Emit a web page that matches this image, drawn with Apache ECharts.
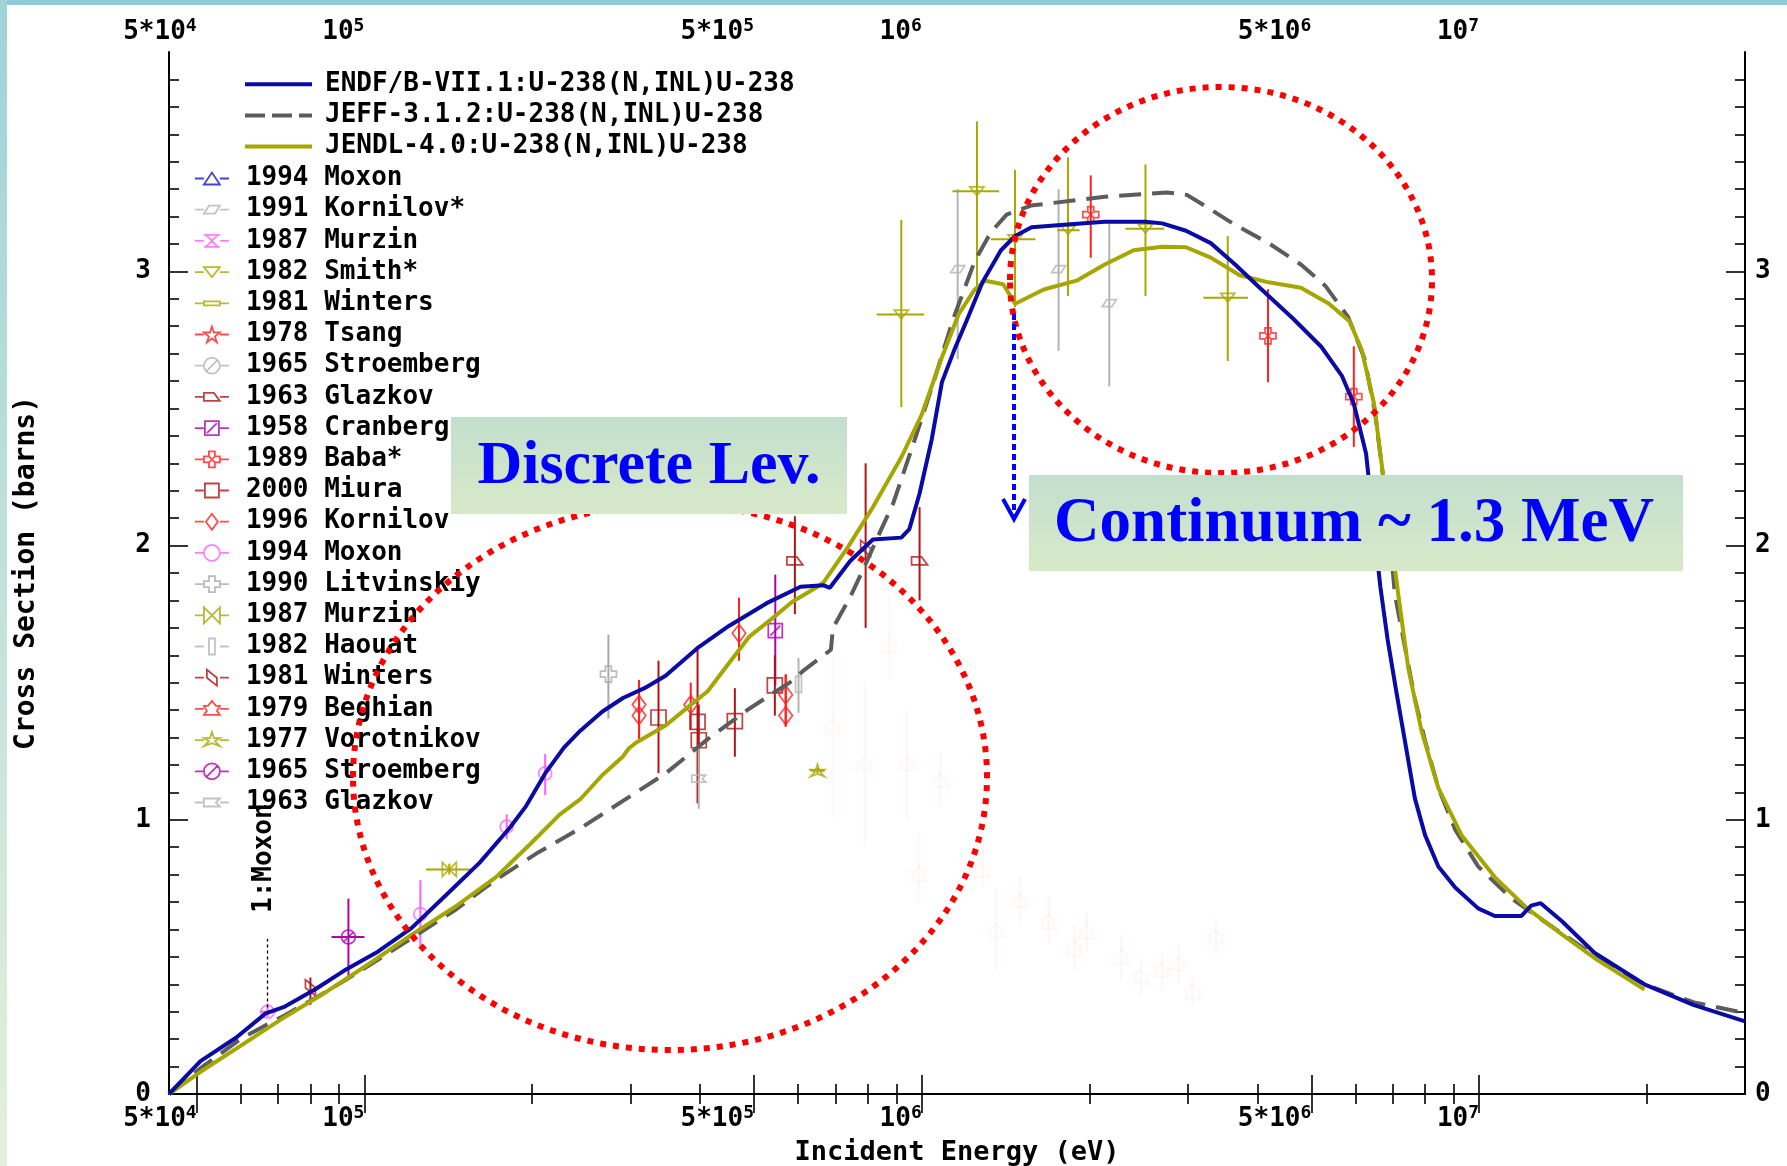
<!DOCTYPE html>
<html><head><meta charset="utf-8">
<script src="https://cdn.jsdelivr.net/npm/echarts@6.0.0/dist/echarts.min.js"></script>
<style>html,body{margin:0;padding:0;background:#fff}#c{width:1787px;height:1166px}</style>
</head><body><div id="c"></div>
<script>
const FONT = "'DejaVu Sans Mono', 'Liberation Mono', monospace";
const X_MIN = 44600, X_MAX = 3.0e7, Y_MIN = 0, Y_MAX = 3.8;
const xMajorTicks = [5e4, 1e5, 5e5, 1e6, 5e6, 1e7];
const xTickLabels = ['5*10^4', '10^5', '5*10^5', '10^6', '5*10^6', '10^7'];
const xMinorTicks = [6e4, 7e4, 8e4, 9e4, 2e5, 3e5, 4e5, 6e5, 7e5, 8e5, 9e5, 2e6, 3e6, 4e6, 6e6, 7e6, 8e6, 9e6, 2e7];
const yMajorTicks = [0, 1, 2, 3];
const yMinorTicks = [0.1,0.2,0.3,0.4,0.5,0.6,0.7,0.8,0.9,1.1,1.2,1.3,1.4,1.5,1.6,1.7,1.8,1.9,2.1,2.2,2.3,2.4,2.5,2.6,2.7,2.8,2.9,3.1,3.2,3.3,3.4,3.5,3.6,3.7];

// Evaluated data: [E (eV), sigma (b)]
const endfData = [[44600,0],[50800,0.12],[58900,0.206],[66500,0.294],[72000,0.319],[81500,0.381],[92000,0.45],[105700,0.519],[121600,0.606],[140000,0.725],[161000,0.844],[182000,0.969],[195000,1.05],[211000,1.169],[228000,1.263],[244000,1.325],[267000,1.394],[291000,1.444],[318000,1.48],[347000,1.525],[398000,1.63],[450000,1.706],[527000,1.79],[606000,1.85],[667000,1.855],[684000,1.846],[744000,1.944],[817000,2.022],[919000,2.029],[950000,2.06],[991000,2.19],[1042000,2.387],[1087000,2.596],[1143000,2.712],[1202000,2.817],[1285000,2.96],[1387000,3.077],[1471000,3.129],[1574000,3.161],[1800000,3.17],[2130000,3.181],[2520000,3.181],[2700000,3.175],[2980000,3.148],[3300000,3.103],[3650000,3.025],[4040000,2.94],[4630000,2.829],[5210000,2.725],[5670000,2.62],[5960000,2.517],[6270000,2.335],[6480000,2.06],[6650000,1.85],[6850000,1.66],[7100000,1.47],[7360000,1.288],[7670000,1.078],[8000000,0.944],[8450000,0.83],[9060000,0.753],[9960000,0.677],[10670000,0.649],[11900000,0.649],[12400000,0.687],[12900000,0.696],[14100000,0.629],[16100000,0.515],[19800000,0.40],[24300000,0.324],[30000000,0.265]];
const jeffData = [[44600,0],[50800,0.094],[60500,0.206],[72000,0.2875],[85800,0.375],[102000,0.469],[121600,0.569],[145000,0.669],[172000,0.781],[205000,0.881],[244000,0.969],[291000,1.069],[347000,1.169],[413000,1.294],[491000,1.406],[585000,1.506],[615000,1.546],[687000,1.62],[693000,1.70],[743000,1.81],[784000,1.91],[830000,2.023],[888000,2.152],[967000,2.374],[1050000,2.596],[1140000,2.829],[1245000,3.038],[1330000,3.142],[1420000,3.207],[1570000,3.24],[2130000,3.272],[2750000,3.288],[2990000,3.279],[3250000,3.234],[3660000,3.168],[4190000,3.103],[4790000,3.025],[5300000,2.947],[5820000,2.834],[6230000,2.681],[6500000,2.49],[6680000,2.30],[6870000,2.10],[7060000,1.823],[7360000,1.631],[7670000,1.441],[8000000,1.288],[8450000,1.116],[9060000,0.964],[9960000,0.83],[11400000,0.715],[13100000,0.629],[16100000,0.505],[19800000,0.40],[24300000,0.334],[30000000,0.295]];
const jendlData = [[44600,0],[50800,0.081],[60500,0.181],[72000,0.281],[85800,0.375],[102000,0.475],[121600,0.581],[145000,0.681],[172000,0.79],[198000,0.91],[224000,1.019],[244000,1.075],[267000,1.1625],[291000,1.231],[298000,1.26],[307000,1.281],[347000,1.344],[385000,1.419],[413000,1.469],[450000,1.569],[491000,1.669],[536000,1.73],[585000,1.794],[650000,1.85],[667000,1.867],[738000,1.996],[817000,2.14],[919000,2.322],[1000000,2.478],[1087000,2.687],[1164000,2.843],[1245000,2.934],[1300000,2.966],[1400000,2.953],[1471000,2.882],[1655000,2.934],[1895000,2.966],[2130000,3.025],[2400000,3.077],[2700000,3.09],[2980000,3.088],[3300000,3.05],[3720000,2.986],[4190000,2.96],[4790000,2.94],[5380000,2.882],[5860000,2.817],[6160000,2.712],[6480000,2.517],[6870000,2.108],[7160000,1.823],[7460000,1.555],[7880000,1.326],[8450000,1.116],[9300000,0.944],[10670000,0.791],[12200000,0.677],[14100000,0.581],[16100000,0.496],[18500000,0.419],[19800000,0.381]];

// Experimental data: [E, sigma, sigmaLow, sigmaHigh, (Elow, Ehigh)]
const exMoxon1994a = [];
const exKornilovStar1991 = [[1160000,3.008,2.68,3.30],[1760000,3.008,2.71,3.30],[2170000,2.884,2.58,3.18]];
const exMurzin1987a = [];
const exSmith1982 = [[919000,2.843,2.505,3.188,830000,1010000],[1256000,3.292,2.92,3.547,1135000,1377000],[1470000,3.117,2.87,3.37,1330000,1600000],[1830000,3.15,2.91,3.416,1750000,1920000],[2520000,3.155,2.91,3.39,2320000,2720000],[3540000,2.904,2.673,3.129,3200000,3850000]];
const exWinters1981a = [];
const exTsang1978 = [];
const exStroemberg1965a = [];
const exGlazkov1963a = [[592000,1.944,1.75,2.107],[991000,1.944,1.80,2.14]];
const exCranberg1958 = [[546000,1.69,1.49,1.894]];
const exBaba1989 = [[2010000,3.207,3.05,3.35],[4180000,2.765,2.596,2.935],[5960000,2.543,2.36,2.727]];
const exMiura2000 = [[337000,1.373,1.17,1.58],[396000,1.357,1.06,1.62],[398000,1.29,1.15,1.42],[462000,1.36,1.23,1.48],[545000,1.49,1.38,1.60]];
const exKornilov1996 = [[311000,1.42,1.29,1.51],[311000,1.38,1.29,1.51],[385000,1.42,1.33,1.50],[470000,1.68,1.58,1.81],[570000,1.456,1.34,1.53],[570000,1.38,1.34,1.53]];
const exMoxon1994b = [[67000,0.30,0.28,0.33,64900,69500],[126000,0.656,0.54,0.78],[180000,0.975,0.93,1.02],[211000,1.169,1.09,1.24]];
const exLitvinskiy1990 = [[274000,1.531,1.369,1.675]];
const exMurzin1987b = [[142000,0.819,0.80,0.84,129000,155000]];
const exHaouat1982 = [[601000,1.494,1.39,1.59]];
const exWinters1981b = [[80000,0.3875,0.325,0.425],[793000,1.99,1.70,2.30]];
const exBeghian1979 = [[875000,1.637,1.509,1.813],[692000,1.339,1.0,1.6],[789000,1.206,0.9,1.5],[942000,1.206,1.0,1.4],[1080000,1.145,1.05,1.25],[987000,0.805,0.7,0.95],[1285000,0.817,0.75,0.9],[1360000,0.598,0.45,0.75],[1500000,0.707,0.62,0.8],[1690000,0.628,0.55,0.72],[1880000,0.531,0.45,0.62],[1980000,0.592,0.52,0.66],[2280000,0.50,0.42,0.58],[2470000,0.428,0.36,0.5],[2700000,0.452,0.38,0.52],[2890000,0.476,0.40,0.55],[3060000,0.373,0.32,0.43],[3370000,0.573,0.5,0.64]];
const exVorotnikov1977 = [[650000,1.18,1.17,1.19,630000,670000]];
const exStroemberg1965b = [[93600,0.5725,0.431,0.7125,87300,100000]];
const exGlazkov1963b = [[398000,1.15,1.04,1.27]];

// symbol outlines (16x16 design box)
const SH = {
  triUp: 'M8 2L16 14L0 14Z',
  para: 'M0 12L5 4L16 4L11 12Z',
  hourglass: 'M2 2L14 2L2 14L14 14Z M0 2L16 2 M0 14L16 14',
  triDown: 'M0 3L16 3L8 13Z',
  flatRect: 'M0 6L16 6L16 10L0 10Z',
  star: 'M8 0L10 6L16 6L11 10L13 16L8 12L3 16L5 10L0 6L6 6Z',
  circSlash: 'M16 8A8 8 0 1 1 0 8A8 8 0 1 1 16 8Z M2.5 13.5L13.5 2.5',
  flag: 'M0 4L10 4L16 12L0 12Z',
  sqSlash: 'M1 1L15 1L15 15L1 15Z M3 13L13 3',
  baba: 'M5 0L11 0L11 5L16 5L16 11L11 11L11 16L5 16L5 11L0 11L0 5L5 5Z M5 5L11 11M11 5L5 11',
  square: 'M1 1L15 1L15 15L1 15Z',
  diamond: 'M8 0L14 8L8 16L2 8Z',
  circle: 'M16 8A8 8 0 1 1 0 8A8 8 0 1 1 16 8Z',
  plus: 'M5 0L11 0L11 5L16 5L16 11L11 11L11 16L5 16L5 11L0 11L0 5L5 5Z',
  bowtie: 'M0 0L16 16L16 0L0 16Z',
  thinRect: 'M5 0L11 0L11 16L5 16Z',
  winters: 'M3 0L13 8L13 16L3 8Z',
  house: 'M8 0L12 5L16 5L13 10L16 14L0 14L3 10L0 5L4 5Z',
  star2: 'M8 0L10 6L16 6L11 9L16 14L8 11L0 14L5 9L0 6L6 6Z',
  flag2: 'M0 4L16 4L12 8L16 12L0 12Z'
};

const experiments = [
  {name:'1994 Moxon', color:'#1414c8', shape:SH.triUp, size:14, data:exMoxon1994a},
  {name:'1991 Kornilov*', color:'#b4b4b4', shape:SH.para, size:14, data:exKornilovStar1991},
  {name:'1987 Murzin', color:'#ff60ff', shape:SH.hourglass, size:14, data:exMurzin1987a},
  {name:'1982 Smith*', color:'#a8a800', shape:SH.triDown, size:14, data:exSmith1982},
  {name:'1981 Winters', color:'#a8a800', shape:SH.flatRect, size:14, data:exWinters1981a},
  {name:'1978 Tsang', color:'#ff2020', shape:SH.star, size:14, data:exTsang1978},
  {name:'1965 Stroemberg', color:'#b4b4b4', shape:SH.circSlash, size:14, data:exStroemberg1965a},
  {name:'1963 Glazkov', color:'#b01414', shape:SH.flag, size:16, data:exGlazkov1963a},
  {name:'1958 Cranberg', color:'#b000b0', shape:SH.sqSlash, size:14, data:exCranberg1958},
  {name:'1989 Baba*', color:'#ff2020', shape:SH.baba, size:16, data:exBaba1989},
  {name:'2000 Miura', color:'#b01414', shape:SH.square, size:15, data:exMiura2000},
  {name:'1996 Kornilov', color:'#ff2020', shape:SH.diamond, size:18, data:exKornilov1996},
  {name:'1994 Moxon ', color:'#ff60ff', shape:SH.circle, size:13, data:exMoxon1994b},
  {name:'1990 Litvinskiy', color:'#aaaaaa', shape:SH.plus, size:16, data:exLitvinskiy1990},
  {name:'1987 Murzin ', color:'#a8a800', shape:SH.bowtie, size:14, data:exMurzin1987b},
  {name:'1982 Haouat', color:'#b4b4b4', shape:SH.thinRect, size:16, data:exHaouat1982},
  {name:'1981 Winters ', color:'#b01414', shape:SH.winters, size:16, data:exWinters1981b},
  {name:'1979 Beghian', color:'#ff2020', faint:'rgba(255,110,110,0.07)', shape:SH.house, size:16, data:exBeghian1979},
  {name:'1977 Vorotnikov', color:'#a8a800', shape:SH.star2, size:14, data:exVorotnikov1977},
  {name:'1965 Stroemberg ', color:'#b000b0', shape:SH.circSlash, size:14, data:exStroemberg1965b},
  {name:'1963 Glazkov ', color:'#b4b4b4', shape:SH.flag2, size:14, data:exGlazkov1963b}
];

function shiftPath(d, dx, dy) {
  return d.replace(/([MLA])([^MLAZ]*)/g, function (m, c, args) {
    const n = args.trim().split(/[\s,]+/).map(Number);
    if (c === 'A') { n[5] += dx; n[6] += dy; }
    else { for (let i = 0; i + 1 < n.length; i += 2) { n[i] += dx; n[i + 1] += dy; } }
    return c + n.join(' ');
  });
}
function legendIcon(shape) {
  return 'path://M0 0M34 20M0 10L9 10M25 10L34 10' + shiftPath(shape, 9, 2);
}

function fmtX(v) {
  for (let i = 0; i < xMajorTicks.length; i++) {
    if (Math.abs(v - xMajorTicks[i]) / xMajorTicks[i] < 1e-3) {
      const p = xTickLabels[i].split('^');
      return '{b|' + p[0] + '}{s|' + p[1] + '}';
    }
  }
  return '';
}
const richX = {
  b: {fontFamily: FONT, fontWeight: 'bold', fontSize: 26, color: '#000', lineHeight: 28, verticalAlign: 'bottom'},
  s: {fontFamily: FONT, fontWeight: 'bold', fontSize: 18, color: '#000', lineHeight: 16, verticalAlign: 'top'}
};
const labelFont = {fontFamily: FONT, fontWeight: 'bold', fontSize: 26, color: '#000'};

function xAxisDef(pos, major) {
  return {
    type: 'log', logBase: 10, min: X_MIN, max: X_MAX, position: pos,
    axisLine: {show: major, lineStyle: {color: '#000', width: 2}},
    axisTick: {show: true, inside: true, length: major ? 19 : 10, customValues: major ? xMajorTicks : xMinorTicks, lineStyle: {color: '#000', width: 1.6}},
    axisLabel: major ? {show: true, customValues: xMajorTicks, formatter: fmtX, rich: richX, align: 'right', margin: pos === 'bottom' ? 10 : 7} : {show: false},
    splitLine: {show: false}, minorTick: {show: false}
  };
}
function yAxisDef(pos, major) {
  return {
    type: 'value', min: Y_MIN, max: Y_MAX, position: pos,
    axisLine: {show: major, lineStyle: {color: '#000', width: 2}},
    axisTick: {show: true, inside: true, length: major ? 19 : 10, customValues: major ? yMajorTicks : yMinorTicks, lineStyle: {color: '#000', width: 1.6}},
    axisLabel: major ? Object.assign({show: true, customValues: yMajorTicks, margin: pos === 'left' ? 18 : 10}, labelFont) : {show: false},
    splitLine: {show: false}, minorTick: {show: false}
  };
}

const xAxes = [xAxisDef('bottom', true), xAxisDef('bottom', false), xAxisDef('top', true), xAxisDef('top', false)];
Object.assign(xAxes[0], {name: 'Incident Energy (eV)', nameLocation: 'middle', nameGap: 45, nameTextStyle: Object.assign({}, labelFont, {fontSize: 27})});
const yAxes = [yAxisDef('left', true), yAxisDef('left', false), yAxisDef('right', true), yAxisDef('right', false)];
Object.assign(yAxes[0], {name: 'Cross Section (barns)', nameLocation: 'middle', nameRotate: 90, nameGap: 128, nameTextStyle: Object.assign({}, labelFont, {fontSize: 28})});

const models = [
  {name: 'ENDF/B-VII.1:U-238(N,INL)U-238', color: '#0a0aa6', type: 'solid', data: endfData, z: 6},
  {name: 'JEFF-3.1.2:U-238(N,INL)U-238', color: '#5c5c5c', type: [22, 11], data: jeffData, z: 5},
  {name: 'JENDL-4.0:U-238(N,INL)U-238', color: '#a6a600', type: 'solid', data: jendlData, z: 5}
];
const series = models.map(function (m) {
  return {type: 'line', name: m.name, data: m.data, symbol: 'none', showSymbol: false,
    lineStyle: {color: m.color, width: 4, type: m.type}, itemStyle: {color: m.color}, z: m.z, silent: true};
});

const errData = [];
experiments.forEach(function (ex, i) {
  ex.data.forEach(function (d) { errData.push([d[0], d[1], d[2], d[3], d[4] || 0, d[5] || 0, i]); });
});
series.push({
  type: 'custom', name: '_errbars', data: errData, encode: {x: 0, y: 1}, z: 3, silent: true, clip: true,
  renderItem: function (params, api) {
    const e = api.value(0), y = api.value(1), lo = api.value(2), hi = api.value(3), xl = api.value(4), xh = api.value(5);
    const ex = experiments[api.value(6)];
    const col = ex.faint || ex.color;
    const a = api.coord([e, lo]), b = api.coord([e, hi]);
    const ch = [{type: 'line', shape: {x1: a[0], y1: a[1], x2: b[0], y2: b[1]}, style: {stroke: col, lineWidth: 2}}];
    if (xl > 0 && xh > 0) {
      const c = api.coord([xl, y]), d = api.coord([xh, y]);
      ch.push({type: 'line', shape: {x1: c[0], y1: c[1], x2: d[0], y2: d[1]}, style: {stroke: col, lineWidth: 2}});
    }
    return {type: 'group', children: ch};
  }
});
experiments.forEach(function (ex) {
  const s = {
    type: 'scatter', name: ex.name, data: ex.data.map(function (d) { return [d[0], d[1]]; }),
    symbol: 'path://' + ex.shape, symbolSize: ex.size, symbolKeepAspect: true,
    itemStyle: {color: 'rgba(0,0,0,0)', borderColor: ex.faint || ex.color, borderWidth: 1.7},
    z: 4, silent: true
  };
  if (ex.data === exMoxon1994b) {
    s.markLine = {silent: true, symbol: ['none', 'none'], label: {show: false},
      lineStyle: {color: '#000', width: 1.3, type: [3, 3]},
      data: [[{coord: [67000, 0.315]}, {coord: [67000, 0.565]}]]};
  }
  series.push(s);
});

const legendText = {fontFamily: FONT, fontWeight: 'bold', fontSize: 26, color: '#000', lineHeight: 20};
const option = {
  animation: false,
  backgroundColor: '#ffffff',
  grid: {left: 169, right: 42, top: 52, bottom: 72, containLabel: false, outerBoundsMode: 'none'},
  xAxis: xAxes,
  yAxis: yAxes,
  legend: [
    {data: models.map(function (m) {
        return {name: m.name, itemStyle: {color: 'rgba(0,0,0,0)', borderColor: 'rgba(0,0,0,0)', borderWidth: 0, opacity: 0},
          lineStyle: {color: m.color, width: 4, type: m.type === 'solid' ? 'solid' : [20, 7], opacity: 1}};
      }), orient: 'vertical', left: 243, top: 71.2,
      itemWidth: 67, itemHeight: 20, itemGap: 5.2, padding: 0, selectedMode: false,
      textStyle: Object.assign({padding: [0, 0, 0, 8]}, legendText)},
    {data: experiments.map(function (ex) { return {name: ex.name, icon: legendIcon(ex.shape), itemStyle: {color: 'rgba(0,0,0,0)', borderColor: ex.color, borderWidth: 1.8}}; }),
      orient: 'vertical', left: 194, top: 165.5, itemWidth: 34, itemHeight: 20, itemGap: 5.2, padding: 0, selectedMode: false,
      textStyle: Object.assign({padding: [0, 0, 0, 12]}, legendText)}
  ],
  series: series
};

const chart = echarts.init(document.getElementById('c'), null, {renderer: 'canvas'});
chart.setOption(option);

const mox = chart.convertToPixel({xAxisIndex: 0, yAxisIndex: 0}, [66000, 0.86]);
const boxFill = {type: 'linear', x: 0, y: 0, x2: 0, y2: 1, colorStops: [{offset: 0, color: '#c3dfcd'}, {offset: 1, color: '#d8e9c9'}]};
chart.setOption({
  graphic: {elements: [
    {id: 'topband', type: 'rect', shape: {x: 0, y: 0, width: 1787, height: 5}, style: {fill: '#8ecbd6'}, z: -10, silent: true},
    {id: 'leftband', type: 'rect', shape: {x: 0, y: 0, width: 7, height: 1166}, style: {fill: {type: 'linear', x: 0, y: 0, x2: 0, y2: 1, colorStops: [{offset: 0, color: '#9fd3d8'}, {offset: 1, color: '#e4f0da'}]}}, z: -10, silent: true},
    {id: 'ell1', type: 'ellipse', shape: {cx: 670, cy: 777, rx: 317, ry: 273}, style: {fill: null, stroke: '#ff0000', lineWidth: 6, lineDash: [6, 7]}, z: 100, silent: true},
    {id: 'ell2', type: 'ellipse', shape: {cx: 1221, cy: 280, rx: 211, ry: 193}, style: {fill: null, stroke: '#ff0000', lineWidth: 6, lineDash: [6, 7]}, z: 100, silent: true},
    {id: 'box1', type: 'rect', shape: {x: 451, y: 417, width: 396, height: 97}, style: {fill: boxFill}, z: 101, silent: true},
    {id: 'txt1', type: 'text', x: 649, y: 467, style: {text: 'Discrete Lev.', fontFamily: "'Liberation Serif', 'DejaVu Serif', serif", fontWeight: 'bold', fontSize: 62, fill: '#0000ff', align: 'center', verticalAlign: 'middle'}, z: 102, silent: true},
    {id: 'box2', type: 'rect', shape: {x: 1029, y: 475, width: 654, height: 96}, style: {fill: boxFill}, z: 101, silent: true},
    {id: 'txt2', type: 'text', x: 1354, y: 525, style: {text: 'Continuum ~ 1.3 MeV', fontFamily: "'Liberation Serif', 'DejaVu Serif', serif", fontWeight: 'bold', fontSize: 63, fill: '#0000ff', align: 'center', verticalAlign: 'middle'}, z: 102, silent: true},
    {id: 'arrowline', type: 'line', shape: {x1: 1014, y1: 314, x2: 1014, y2: 516}, style: {stroke: '#0000ff', lineWidth: 4, lineDash: [6, 4]}, z: 102, silent: true},
    {id: 'arrowhead', type: 'polyline', shape: {points: [[1003, 499], [1014, 519], [1025, 499]]}, style: {stroke: '#0000ff', lineWidth: 4, fill: null}, z: 102, silent: true},
    {id: 'moxlab', type: 'text', x: mox[0], y: mox[1], rotation: Math.PI / 2, style: {text: '1:Moxon', fontFamily: FONT, fontWeight: 'bold', fontSize: 26, fill: '#000', align: 'center', verticalAlign: 'middle'}, z: 50, silent: true}
  ]}
});
</script></body></html>
